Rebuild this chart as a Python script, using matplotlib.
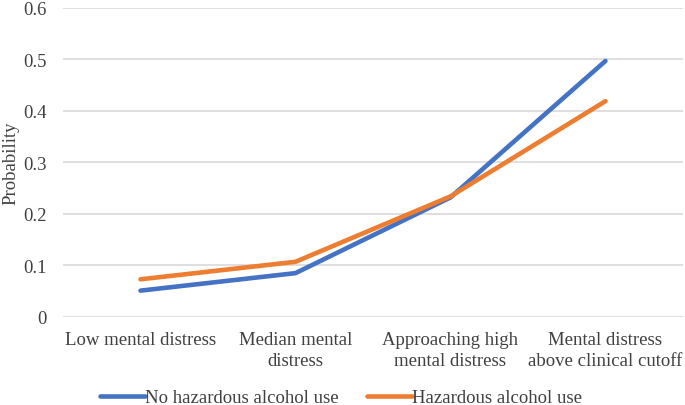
import matplotlib
matplotlib.use("Agg")
from matplotlib import pyplot as plt

categories = ["Low mental distress", "Median mental\ndistress",
              "Approaching high\nmental distress", "Mental distress\nabove clinical cutoff"]
no_hazardous = [0.051, 0.085, 0.232, 0.497]
hazardous = [0.073, 0.107, 0.234, 0.419]
y_ticks = [0, 0.1, 0.2, 0.3, 0.4, 0.5, 0.6]
y_labels = ["0", "0.1", "0.2", "0.3", "0.4", "0.5", "0.6"]

plt.rcParams["font.family"] = ["Liberation Serif", "DejaVu Serif"]

fig = plt.figure(figsize=(6.85, 4.06), dpi=100)
ax = fig.add_axes([0.092, 0.217, 0.905, 0.761])

x = list(range(len(categories)))
ax.plot(x, no_hazardous, color="#4472C4", lw=3.3, label="No hazardous alcohol use",
        solid_capstyle="round", zorder=3)
ax.plot(x, hazardous, color="#ED7D31", lw=3.3, label="Hazardous alcohol use",
        solid_capstyle="round", zorder=3)

ax.set_xlim(-0.5, len(categories) - 0.5)
ax.set_ylim(0, 0.6)
ax.set_yticks(y_ticks)
ax.set_yticklabels(y_labels, fontsize=13.5, color="#404040")
ax.set_xticks(x)
ax.set_xticklabels(categories, fontsize=13.5, color="#404040", linespacing=1.3)
ax.tick_params(length=0)
ax.tick_params(axis="x", pad=10)
ax.tick_params(axis="y", pad=12)
ax.grid(axis="y", color="#d9d9d9", lw=1.2)
ax.set_axisbelow(True)
for s in ax.spines.values():
    s.set_visible(False)
ax.set_ylabel("Probability", fontsize=13.5, color="#404040", labelpad=0)
ax.yaxis.set_label_coords(-0.071, 0.5)

fig.legend(loc="center", bbox_to_anchor=(0.498, 0.018), ncol=2, frameon=False,
           fontsize=13.5, handlelength=2.4, handletextpad=0.0, columnspacing=1.55,
           labelcolor="#404040")

fig.savefig("out.png", dpi=100)
